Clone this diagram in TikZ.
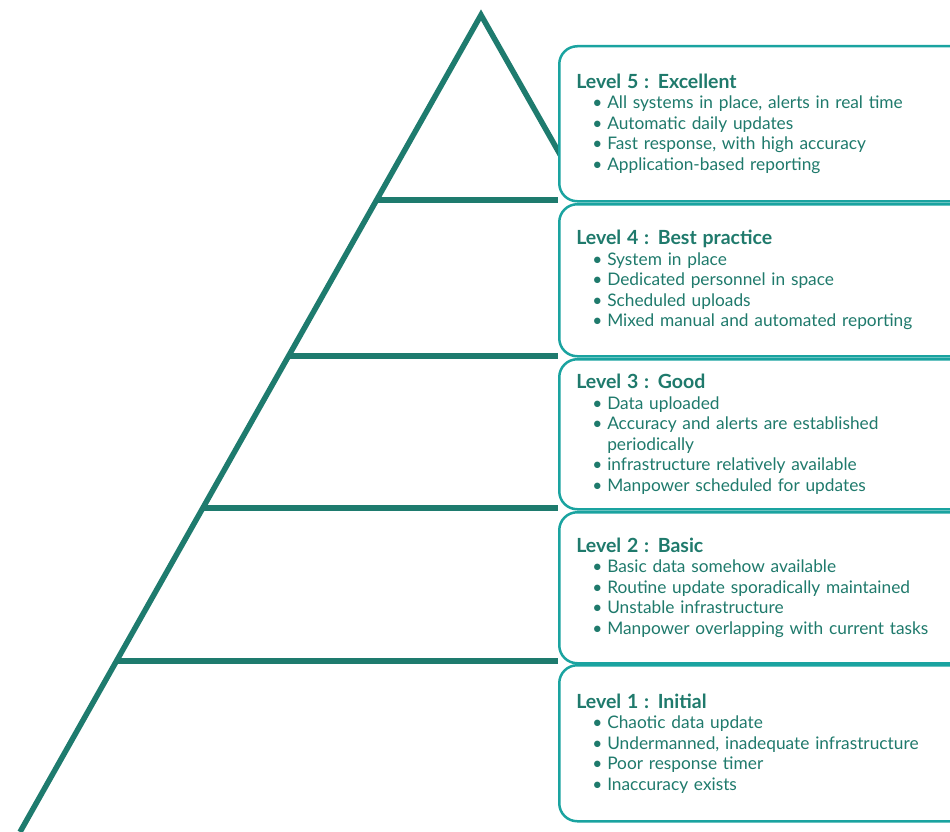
\documentclass[tikz,border=0pt]{standalone}
\usepackage{fontspec}
\setmainfont{Lato}
\usetikzlibrary{calc}

\definecolor{pyrline}{HTML}{1E7B6E}
\definecolor{boxline}{HTML}{1AA3A0}
\definecolor{lvtext}{HTML}{1F7A6C}

\newcommand{\lvhead}[1]{{\fontsize{19.5}{20.5}\selectfont\textbf{#1}}\\}
\newcommand{\lvitem}[1]{\hspace*{16pt}\makebox[15pt][l]{\textbullet}#1\\}
\newcommand{\lvmore}[1]{\hspace*{31pt}#1\\}

\begin{document}
\begin{tikzpicture}[x=1pt,y=-1pt,
    pyr/.style={draw=pyrline,line width=5.5pt},
    lvbox/.style={draw=boxline,line width=2.5pt,fill=white,rounded corners=18pt,
        anchor=north west,minimum width=420pt,inner xsep=17pt,text width=386pt,
        align=left,text=lvtext,font=\fontsize{17.3}{20.5}\selectfont}]
\useasboundingbox (0,0) rectangle (950,832);
\clip (0,0) rectangle (950,832);

\coordinate (apex) at (481,15);
\coordinate (base) at (20,832);
\coordinate (side) at (570,172);

% outline of the pyramid, right side runs in behind the boxes
\draw[pyr,line join=miter] (base) -- (apex) -- (side);

\coordinate (e4) at ($(apex)!0.2264!(base)$);
\coordinate (e3) at ($(apex)!0.4174!(base)$);
\coordinate (e2) at ($(apex)!0.6034!(base)$);
\coordinate (e1) at ($(apex)!0.7907!(base)$);

\node[lvbox,minimum height=155pt] (l5) at (558,45) {
    \lvhead{Level 5 : Excellent}
    \lvitem{All systems in place, alerts in real time}
    \lvitem{Automatic daily updates}
    \lvitem{Fast response, with high accuracy}
    \lvitem{Application-based reporting}};
\node[lvbox,minimum height=152pt] (l4) at (558,203) {
    \lvhead{Level 4 : Best practice}
    \lvitem{System in place}
    \lvitem{Dedicated personnel in space}
    \lvitem{Scheduled uploads}
    \lvitem{Mixed manual and automated reporting}};
\node[lvbox,minimum height=150pt] (l3) at (558,358) {
    \lvhead{Level 3 : Good}
    \lvitem{Data uploaded}
    \lvitem{Accuracy and alerts are established}
    \lvmore{periodically}
    \lvitem{infrastructure relatively available}
    \lvitem{Manpower scheduled for updates}};
\node[lvbox,minimum height=151pt] (l2) at (558,511) {
    \lvhead{Level 2 : Basic}
    \lvitem{Basic data somehow available}
    \lvitem{Routine update sporadically maintained}
    \lvitem{Unstable infrastructure}
    \lvitem{Manpower overlapping with current tasks}};
\node[lvbox,minimum height=156pt] (l1) at (558,664) {
    \lvhead{Level 1 : Initial}
    \lvitem{Chaotic data update}
    \lvitem{Undermanned, inadequate infrastructure}
    \lvitem{Poor response timer}
    \lvitem{Inaccuracy exists}};

% level dividers
\draw[pyr] (e4) -- (e4 -| l5.south west);
\draw[pyr] (e3) -- (e3 -| l4.south west);
\draw[pyr] (e2) -- (e2 -| l3.south west);
\draw[pyr] (e1) -- (e1 -| l2.south west);
\end{tikzpicture}
\end{document}
